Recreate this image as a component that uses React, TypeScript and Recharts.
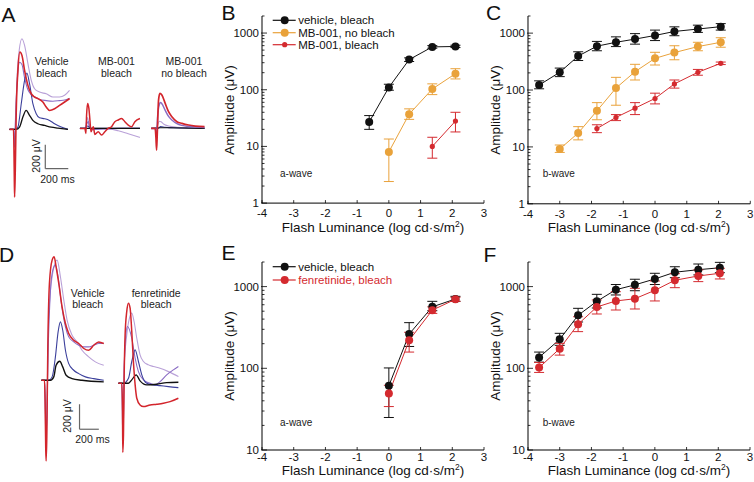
import React from 'react';
import { ComposedChart, LineChart, Line, XAxis, YAxis, ErrorBar, ReferenceLine } from 'recharts';

const FONT = '"Liberation Sans", Arial, Helvetica, sans-serif';

// ---------- colours ----------
const C_BLACK = '#111111';
const C_ORANGE = '#e9a23a';
const C_RED = '#d42a2f';
const T_LILAC = '#b9a1d8';
const T_PURPLE = '#8a6cc4';
const T_BLUE = '#3c409c';
const T_RED = '#d3252c';
const T_BLACK = '#111111';

// ---------- axis ticks ----------
const X_TICKS = [-4, -3, -2, -1, 0, 1, 2, 3];
const MAJORS_1 = [1, 10, 100, 1000];
const MAJORS_10 = [10, 100, 1000];
const MINOR_MULT = [2, 3, 4, 5, 6, 7, 8, 9];

// ---------- Panel B (a-wave) ----------
const B_VEH_X = [-0.62, 0, 0.64, 1.37, 2.1];
const B_VEH = [27, 110, 340, 570, 580];
const B_VEH_LO = [20, 98, 315, 540, 555];
const B_VEH_HI = [35, 125, 365, 600, 610];
const B_NB_X = [0, 0.64, 1.37, 2.1];
const B_NB = [8, 37, 103, 192];
const B_NB_LO = [2.4, 30, 82, 155];
const B_NB_HI = [13.5, 46, 127, 235];
const B_MB_X = [1.37, 2.1];
const B_MB = [10, 28];
const B_MB_LO = [6.2, 18];
const B_MB_HI = [14.5, 40];

// ---------- Panel C (b-wave) ----------
const C_VEH_X = [-3.65, -3.0, -2.42, -1.83, -1.23, -0.63, 0, 0.61, 1.35, 2.07];
const C_VEH = [122, 205, 395, 590, 690, 785, 910, 1070, 1180, 1300];
const C_VEH_LO = [105, 172, 330, 490, 580, 640, 740, 900, 1030, 1130];
const C_VEH_HI = [145, 243, 470, 715, 860, 980, 1130, 1290, 1380, 1470];
const C_NB_X = [-3.0, -2.42, -1.83, -1.23, -0.63, 0, 0.61, 1.35, 2.07];
const C_NB = [9.2, 17.5, 43, 108, 210, 360, 455, 580, 690];
const C_NB_LO = [8, 13.3, 30, 54, 150, 275, 340, 490, 565];
const C_NB_HI = [10.8, 22.7, 60, 167, 283, 460, 600, 690, 830];
const C_MB_X = [-1.83, -1.23, -0.63, 0, 0.61, 1.35, 2.07];
const C_MB = [21, 33, 48, 71, 128, 205, 295];
const C_MB_LO = [17.8, 29, 37, 57, 108, 182, 280];
const C_MB_HI = [24.5, 37, 60, 88, 150, 230, 310];

// ---------- Panel E (a-wave) ----------
const E_X = [0, 0.64, 1.37, 2.1];
const E_VEH = [61, 262, 565, 705];
const E_VEH_LO = [25, 185, 507, 660];
const E_VEH_HI = [101, 362, 660, 760];
const E_FEN = [49, 220, 515, 700];
const E_FEN_LO = [34, 158, 470, 660];
const E_FEN_HI = [62, 276, 565, 740];

// ---------- Panel F (b-wave) ----------
const F_X = [-3.65, -3.0, -2.42, -1.83, -1.23, -0.63, 0, 0.63, 1.37, 2.05];
const F_VEH = [136, 226, 445, 660, 916, 1050, 1240, 1500, 1610, 1700];
const F_VEH_LO = [119, 191, 369, 547, 790, 890, 1060, 1285, 1390, 1480];
const F_VEH_HI = [158, 268, 542, 804, 1060, 1230, 1455, 1750, 1890, 1980];
const F_FEN = [102, 174, 346, 563, 667, 710, 900, 1195, 1350, 1455];
const F_FEN_LO = [89, 145, 281, 462, 517, 532, 667, 970, 1150, 1240];
const F_FEN_HI = [118, 202, 428, 686, 866, 953, 1171, 1440, 1600, 1675];

// ---------- ERG traces (time ms, amplitude µV) ----------
type Pt = [number, number];
const A1_LILAC: Pt[] = [[-38,0],[-3,0],[6,-92],[15,131],[29,464],[46,659],[70,756],[93,700],[122,548],[151,409],[180,339],[223,311],[281,297],[339,270],[397,270],[441,284],[484,325]];
const A1_PURPLE: Pt[] = [[-38,0],[-3,0],[6,-150],[15,100],[30,420],[50,560],[70,540],[93,430],[122,330],[151,290],[180,270],[223,250],[281,240],[339,235],[397,240],[441,245],[484,260]];
const A1_BLUE: Pt[] = [[-38,0],[15,0],[35,19],[64,214],[93,409],[113,470],[136,381],[165,214],[194,131],[223,97],[267,89],[310,75],[354,47],[412,19],[470,0]];
const A1_BLACK: Pt[] = [[-38,0],[20,0],[49,19],[78,103],[107,158],[136,117],[165,75],[209,47],[267,33],[325,19],[383,11],[470,0]];
const A1_RED: Pt[] = [[-38,0],[-3,0],[3,-342],[6,-564],[12,-342],[20,131],[35,492],[52,645],[70,617],[93,492],[122,367],[151,297],[180,270],[209,256],[252,228],[281,186],[310,158],[354,172],[397,200],[441,228],[484,256]];

const A2_LILAC: Pt[] = [[-52,0],[-9,0],[6,60],[15,90],[26,30],[44,-10],[100,-5],[194,-5],[281,-20],[368,-45],[470,-75]];
const A2_PURPLE: Pt[] = [[-52,0],[-9,0],[10,40],[20,60],[35,0],[60,-10],[150,-5],[300,0],[470,0]];
const A2_BLUE: Pt[] = [[-52,0],[-9,0],[15,20],[40,0],[470,0]];
const A2_BLACK: Pt[] = [[-52,0],[470,0]];
const A2_RED: Pt[] = [[-52,0],[-9,0],[0,-42],[6,111],[15,208],[26,167],[35,70],[44,-28],[64,14],[78,-50],[107,-28],[136,-56],[165,-28],[194,0],[223,14],[252,56],[281,70],[310,83],[339,56],[368,28],[397,14],[426,56],[470,83]];

const A3_LILAC: Pt[] = [[-41,0],[-6,0],[15,30],[30,60],[45,55],[70,35],[110,20],[183,10],[300,5],[423,0]];
const A3_PURPLE: Pt[] = [[-41,0],[-6,0],[6,-60],[15,100],[30,200],[40,215],[52,205],[81,150],[110,100],[139,70],[183,40],[226,25],[300,15],[423,8]];
const A3_BLUE: Pt[] = [[-41,0],[20,0],[40,15],[80,10],[150,5],[423,0]];
const A3_BLACK: Pt[] = [[-41,0],[40,5],[100,5],[423,0]];
const A3_RED: Pt[] = [[-41,0],[-6,0],[0,-70],[6,-181],[12,-42],[23,236],[35,292],[52,278],[81,208],[110,139],[139,97],[183,56],[226,42],[284,28],[342,19],[423,14]];

const D1_LILAC: Pt[] = [[-35,0],[-3,0],[3,-150],[10,-450],[14,-520],[21,-350],[31,200],[41,507],[76,828],[128,961],[162,828],[197,641],[231,481],[283,360],[335,307],[386,240],[455,187],[524,147],[611,120]];
const D1_PURPLE: Pt[] = [[-35,0],[-3,0],[3,-120],[10,-350],[14,-420],[21,-300],[35,240],[59,721],[83,881],[110,921],[138,828],[172,614],[214,427],[248,347],[300,307],[352,280],[404,267],[455,267],[507,280],[559,294],[611,294]];
const D1_BLUE: Pt[] = [[-35,0],[41,0],[76,27],[110,187],[138,387],[162,467],[186,400],[214,240],[248,133],[300,80],[352,53],[421,27],[507,13],[611,0]];
const D1_BLACK: Pt[] = [[-35,0],[59,0],[93,27],[117,120],[155,152],[186,107],[221,40],[283,13],[386,0],[611,-13]];
const D1_RED: Pt[] = [[-35,0],[-3,0],[3,-160],[10,-560],[14,-646],[21,-454],[31,240],[48,774],[76,961],[97,988],[117,908],[145,774],[179,587],[214,454],[248,374],[300,320],[352,294],[404,254],[455,240],[507,280],[559,307],[611,294]];

const D2_LILAC: Pt[] = [[-45,0],[-10,0],[-3,-200],[0,-400],[7,-300],[14,120],[41,387],[69,521],[93,561],[117,494],[145,360],[179,227],[214,174],[266,147],[317,134],[386,120],[473,93],[576,53]];
const D2_PURPLE: Pt[] = [[-45,0],[-10,0],[0,-450],[7,-300],[14,100],[24,307],[48,454],[93,360],[128,200],[162,93],[214,27],[283,0],[335,-13],[386,13],[455,67],[524,107],[576,134]];
const D2_BLUE: Pt[] = [[-45,0],[7,0],[59,40],[93,174],[128,267],[162,174],[197,67],[248,0],[317,-13],[386,-19],[473,-27],[576,-35]];
const D2_BLACK: Pt[] = [[-45,0],[59,0],[93,27],[138,67],[179,19],[248,-13],[352,-8],[455,5],[576,8]];
const D2_RED: Pt[] = [[-45,0],[-10,0],[-3,-227],[0,-553],[7,-414],[14,40],[24,387],[41,574],[59,641],[76,601],[93,414],[110,174],[128,-13],[145,-120],[179,-174],[214,-187],[283,-174],[352,-168],[421,-160],[490,-147],[576,-120]];

// scale bars: [time start, amplitude top, duration ms, amplitude µV]
const SCALE_A = [273, -127, 200, 200];
const SCALE_D = [360, -192, 200, 200];

// ---------- helpers ----------
const mk = (xs: number[], ys: number[], lo: number[], hi: number[]) =>
  xs.map((x, i) => ({ x, y: ys[i], err: [ys[i] - lo[i], hi[i] - ys[i]] }));

const logTicks = (majors: number[], top: number) => {
  const out: number[] = [];
  majors.forEach((m) => {
    out.push(m);
    MINOR_MULT.forEach((k) => { if (m * k <= top) out.push(m * k); });
  });
  if (!out.includes(top)) out.push(top);
  return out.filter((v) => v <= top).sort((a, b) => a - b);
};

const isMajor = (v: number) => Math.abs(Math.log10(v) - Math.round(Math.log10(v))) < 1e-6;

const YTick = (props: any) => {
  const { x, y, payload } = props;
  const v = payload.value;
  const maj = isMajor(v);
  return (
    <g>
      <line x1={x - (maj ? 1 : 0)} x2={x + (maj ? 5 : 2.5)} y1={y} y2={y} stroke="#000" strokeWidth={0.8} />
      {maj && (
        <text x={x - 3} y={y + 4} textAnchor="end" fontSize={11.5} fontFamily={FONT} fill="#111">{v}</text>
      )}
    </g>
  );
};

const XTick = (props: any) => {
  const { x, y, payload, lab } = props;
  return (
    <g>
      <line x1={x} x2={x} y1={y} y2={y - 3} stroke="#000" strokeWidth={0.8} />
      <text x={x} y={y + lab} textAnchor="middle" fontSize={11.5} fontFamily={FONT} fill="#111">{payload.value}</text>
    </g>
  );
};

type Series = { data: any[]; color: string; r: number };

function LogPanel({ px, py, pw, ph, yMin, yMax, majors, series, lab }: any) {
  const ML = 50, MT = 6, MR = 9, XH = 40;
  const ticks = logTicks(majors, yMax);
  return (
    <div style={{ position: 'absolute', left: px - ML, top: py - MT }}>
      <ComposedChart width={ML + pw + MR} height={MT + ph + XH} margin={{ top: MT, right: MR, left: 0, bottom: 0 }}>
        <XAxis type="number" dataKey="x" domain={[-4, 3]} ticks={X_TICKS} interval={0} allowDataOverflow
          height={XH} tickSize={0} tickMargin={0} tickLine={false} axisLine={{ stroke: '#000', strokeWidth: 1 }} tick={<XTick lab={lab} />} />
        <YAxis type="number" scale="log" domain={[yMin, yMax]} ticks={ticks} interval={0} allowDataOverflow
          width={ML} tickSize={0} tickMargin={0} tickLine={false} axisLine={{ stroke: '#000', strokeWidth: 1 }} tick={<YTick />} />
        {(series as Series[]).map((s, i) => (
          <Line key={i} data={s.data} dataKey="y" type="linear" stroke={s.color} strokeWidth={1}
            dot={{ r: s.r, fill: s.color, stroke: 'none' }} activeDot={false} isAnimationActive={false}>
            <ErrorBar dataKey="err" width={5} stroke={s.color} strokeWidth={1} direction="y" />
          </Line>
        ))}
      </ComposedChart>
    </div>
  );
}

type TraceCfg = { x0: number; y0: number; pxMs: number; pxUv: number; t: [number, number]; v: [number, number] };
const CFG_A = { pxMs: 0.115, pxUv: 0.12, t: [-60, 520] as [number, number], v: [-700, 820] as [number, number] };
const CFG_D = { pxMs: 0.0965, pxUv: 0.125, t: [-60, 640] as [number, number], v: [-700, 1050] as [number, number] };

function TraceGroup({ cfg, traces, bar }: { cfg: TraceCfg; traces: { pts: Pt[]; color: string; w: number }[]; bar?: number[] }) {
  const w = (cfg.t[1] - cfg.t[0]) * cfg.pxMs;
  const h = (cfg.v[1] - cfg.v[0]) * cfg.pxUv;
  const left = cfg.x0 + cfg.t[0] * cfg.pxMs;
  const top = cfg.y0 - cfg.v[1] * cfg.pxUv;
  return (
    <div style={{ position: 'absolute', left, top }}>
      <LineChart width={w} height={h} margin={{ top: 0, right: 0, bottom: 0, left: 0 }}>
        <XAxis hide type="number" dataKey="t" domain={cfg.t} allowDataOverflow />
        <YAxis hide type="number" domain={cfg.v} allowDataOverflow />
        {traces.map((tr, i) => (
          <Line key={i} data={tr.pts.map(([t, v]) => ({ t, v }))} dataKey="v" type="monotone"
            stroke={tr.color} strokeWidth={tr.w} dot={false} activeDot={false} isAnimationActive={false} />
        ))}
        {bar && (
          <ReferenceLine segment={[{ x: bar[0], y: bar[1] }, { x: bar[0], y: bar[1] - bar[3] }]} stroke="#666" strokeWidth={1.2} ifOverflow="visible" />
        )}
        {bar && (
          <ReferenceLine segment={[{ x: bar[0], y: bar[1] - bar[3] }, { x: bar[0] + bar[2], y: bar[1] - bar[3] }]} stroke="#666" strokeWidth={1.2} ifOverflow="visible" />
        )}
      </LineChart>
    </div>
  );
}

const tr = (pts: Pt[], color: string, w = 1.1) => ({ pts, color, w });

const Txt = ({ x, y, s = 10.5, a = 'middle', c = '#222', children }: any) => (
  <text x={x} y={y} fontSize={s} textAnchor={a} fill={c} fontFamily={FONT}>{children}</text>
);

const XTitle = ({ x, y }: any) => (
  <text x={x} y={y} fontSize={13.5} textAnchor="middle" fill="#111" fontFamily={FONT}>
    Flash Luminance (log cd·s/m<tspan fontSize={8.5} dy={-5}>2</tspan><tspan dy={5}>)</tspan>
  </text>
);
const YTitle = ({ x, y }: any) => (
  <text transform={`translate(${x},${y}) rotate(-90)`} fontSize={13.5} textAnchor="middle" fill="#111" fontFamily={FONT}>
    Amplitude (μV)
  </text>
);

const LegendRow = ({ x, y, color, r, label, tc = '#111' }: any) => (
  <g>
    <line x1={x} x2={x + 23} y1={y} y2={y} stroke={color} strokeWidth={1.2} />
    <circle cx={x + 12} cy={y} r={r} fill={color} />
    <text x={x + 25.5} y={y + 4} fontSize={11.5} fill={tc} fontFamily={FONT}>{label}</text>
  </g>
);

export default function App() {
  return (
    <div style={{ position: 'absolute', left: 0, top: 0, width: 754, height: 482, background: '#fff', overflow: 'hidden', fontFamily: FONT }}>
      {/* ERG traces */}
      <TraceGroup cfg={{ ...CFG_A, x0: 14.3, y0: 129 }} bar={SCALE_A}
        traces={[tr(A1_LILAC, T_LILAC), tr(A1_PURPLE, T_PURPLE), tr(A1_BLUE, T_BLUE), tr(A1_BLACK, T_BLACK, 1.3), tr(A1_RED, T_RED, 1.6)]} />
      <TraceGroup cfg={{ ...CFG_A, x0: 86, y0: 128.3 }}
        traces={[tr(A2_LILAC, T_LILAC), tr(A2_PURPLE, T_PURPLE), tr(A2_BLUE, T_BLUE), tr(A2_BLACK, T_BLACK), tr(A2_RED, T_RED, 1.5)]} />
      <TraceGroup cfg={{ ...CFG_A, x0: 155.7, y0: 128.3 }}
        traces={[tr(A3_LILAC, T_LILAC), tr(A3_BLUE, T_BLUE), tr(A3_BLACK, T_BLACK), tr(A3_PURPLE, T_PURPLE, 1.5), tr(A3_RED, T_RED, 1.7)]} />
      <TraceGroup cfg={{ ...CFG_D, x0: 44.3, y0: 380 }} bar={SCALE_D}
        traces={[tr(D1_LILAC, T_LILAC), tr(D1_PURPLE, T_PURPLE), tr(D1_BLUE, T_BLUE), tr(D1_BLACK, T_BLACK, 1.4), tr(D1_RED, T_RED, 1.5)]} />
      <TraceGroup cfg={{ ...CFG_D, x0: 122.7, y0: 383.3 }}
        traces={[tr(D2_LILAC, T_LILAC), tr(D2_PURPLE, T_PURPLE), tr(D2_BLUE, T_BLUE), tr(D2_BLACK, T_BLACK, 1.3), tr(D2_RED, T_RED, 1.5)]} />

      {/* Log panels */}
      <LogPanel px={262} py={16.2} pw={222} ph={187.1} yMin={1} yMax={2000} majors={MAJORS_1} lab={14}
        series={[
          { data: mk(B_VEH_X, B_VEH, B_VEH_LO, B_VEH_HI), color: C_BLACK, r: 4 },
          { data: mk(B_NB_X, B_NB, B_NB_LO, B_NB_HI), color: C_ORANGE, r: 4 },
          { data: mk(B_MB_X, B_MB, B_MB_LO, B_MB_HI), color: C_RED, r: 2.6 },
        ]} />
      <LogPanel px={527.7} py={16.2} pw={222.3} ph={187.8} yMin={1} yMax={2000} majors={MAJORS_1} lab={14}
        series={[
          { data: mk(C_VEH_X, C_VEH, C_VEH_LO, C_VEH_HI), color: C_BLACK, r: 4 },
          { data: mk(C_NB_X, C_NB, C_NB_LO, C_NB_HI), color: C_ORANGE, r: 4 },
          { data: mk(C_MB_X, C_MB, C_MB_LO, C_MB_HI), color: C_RED, r: 2.6 },
        ]} />
      <LogPanel px={262} py={262} pw={222} ph={188} yMin={10} yMax={2000} majors={MAJORS_10} lab={10.5}
        series={[
          { data: mk(E_X, E_VEH, E_VEH_LO, E_VEH_HI), color: C_BLACK, r: 4 },
          { data: mk(E_X, E_FEN, E_FEN_LO, E_FEN_HI), color: C_RED, r: 4 },
        ]} />
      <LogPanel px={528} py={262} pw={222} ph={188} yMin={10} yMax={2000} majors={MAJORS_10} lab={10.5}
        series={[
          { data: mk(F_X, F_VEH, F_VEH_LO, F_VEH_HI), color: C_BLACK, r: 4 },
          { data: mk(F_X, F_FEN, F_FEN_LO, F_FEN_HI), color: C_RED, r: 4 },
        ]} />

      {/* overlay text */}
      <svg width={754} height={482} style={{ position: 'absolute', left: 0, top: 0, pointerEvents: 'none' }}>
        <text x={1.5} y={22} fontSize={21} fontFamily={FONT} fill="#111">A</text>
        <text x={221.5} y={20} fontSize={21} fontFamily={FONT} fill="#111">B</text>
        <text x={486} y={20} fontSize={21} fontFamily={FONT} fill="#111">C</text>
        <text x={-1} y={262} fontSize={21} fontFamily={FONT} fill="#111">D</text>
        <text x={221.5} y={260} fontSize={21} fontFamily={FONT} fill="#111">E</text>
        <text x={483.5} y={262} fontSize={21} fontFamily={FONT} fill="#111">F</text>

        <Txt x={51.7} y={65}>Vehicle</Txt>
        <Txt x={51.7} y={76.7}>bleach</Txt>
        <Txt x={116.5} y={65}>MB-001</Txt>
        <Txt x={116.5} y={76.7}>bleach</Txt>
        <Txt x={184} y={65}>MB-001</Txt>
        <Txt x={184} y={76.7}>no bleach</Txt>
        <text transform="translate(40,156) rotate(-90)" fontSize={10.5} textAnchor="middle" fill="#222" fontFamily={FONT}>200 μV</text>
        <Txt x={57.5} y={183}>200 ms</Txt>

        <Txt x={87.7} y={296.7}>Vehicle</Txt>
        <Txt x={87.7} y={308.3}>bleach</Txt>
        <Txt x={156.2} y={296.7}>fenretinide</Txt>
        <Txt x={156.2} y={308.3}>bleach</Txt>
        <text transform="translate(71,416) rotate(-90)" fontSize={10.5} textAnchor="middle" fill="#222" fontFamily={FONT}>200 μV</text>
        <Txt x={92.5} y={443}>200 ms</Txt>

        <XTitle x={373} y={232} />
        <XTitle x={639} y={232} />
        <XTitle x={373} y={475} />
        <XTitle x={639} y={475} />
        <YTitle x={234} y={110} />
        <YTitle x={499.5} y={110} />
        <YTitle x={234} y={356} />
        <YTitle x={499.5} y={356} />

        <Txt x={280} y={177} s={10} a="start">a-wave</Txt>
        <Txt x={542.7} y={177} s={10} a="start">b-wave</Txt>
        <Txt x={280} y={426} s={10} a="start">a-wave</Txt>
        <Txt x={542.7} y={426} s={10} a="start">b-wave</Txt>

        <LegendRow x={272.7} y={20.3} color={C_BLACK} r={4} label="vehicle, bleach" />
        <LegendRow x={272.7} y={32.7} color={C_ORANGE} r={4} label="MB-001, no bleach" />
        <LegendRow x={272.7} y={44.7} color={C_RED} r={2.6} label="MB-001, bleach" />
        <LegendRow x={272.7} y={266.7} color={C_BLACK} r={4} label="vehicle, bleach" />
        <LegendRow x={272.7} y={280} color={C_RED} r={4} label="fenretinide, bleach" tc={C_RED} />
      </svg>
    </div>
  );
}
